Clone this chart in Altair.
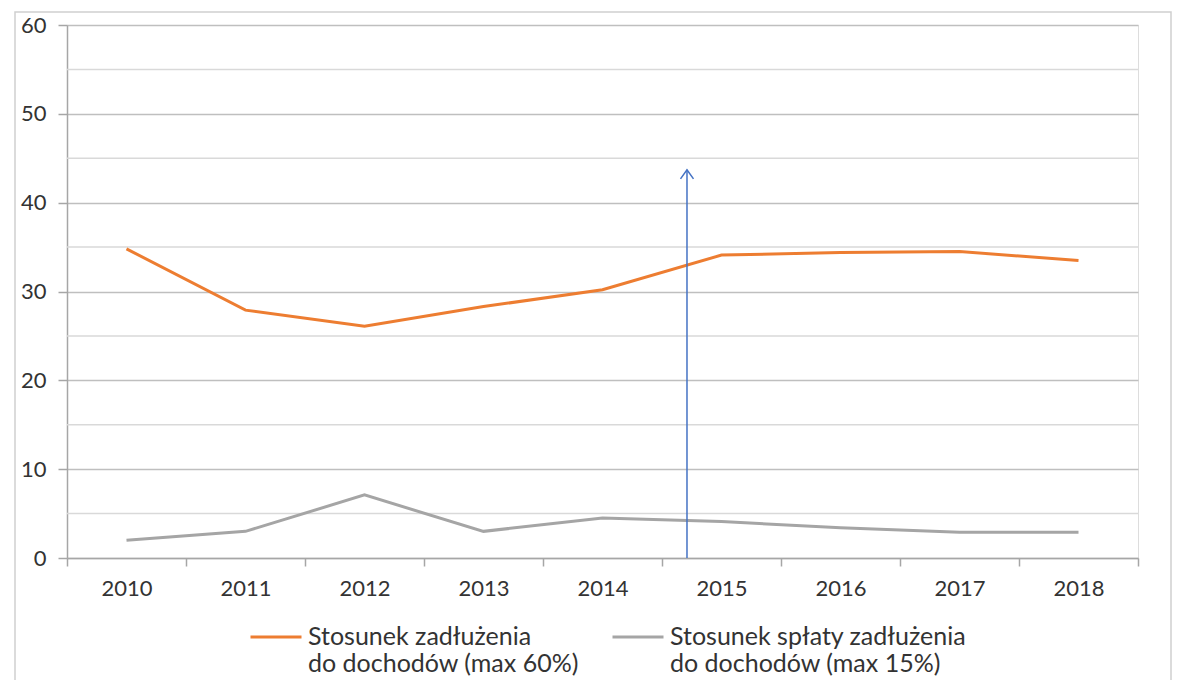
import altair as alt
import pandas as pd

years = ["2010", "2011", "2012", "2013", "2014", "2015", "2016", "2017", "2018"]
debt_ratio = [34.8, 27.9, 26.1, 28.3, 30.2, 34.1, 34.4, 34.5, 33.5]
repay_ratio = [2.0, 3.0, 7.1, 3.0, 4.5, 4.1, 3.4, 2.9, 2.9]
series_names = [
    "Stosunek zadłużenia|do dochodów (max 60%)",
    "Stosunek spłaty zadłużenia|do dochodów (max 15%)",
]
series_colors = ["#ED7D31", "#A5A5A5"]
major_ticks = [0, 10, 20, 30, 40, 50, 60]
minor_grid = [5, 15, 25, 35, 45, 55]
arrow_pos = [5.21]
arrow_top = [43.7]

rows = []
for name, vals in zip(series_names, [debt_ratio, repay_ratio]):
    for yr, v in zip(years, vals):
        rows.append({"year": yr, "value": v, "series": name})
df = pd.DataFrame(rows)

FONT = "Lato"
AXIS_GRAY = "#a6a6a6"

y_scale = alt.Scale(domain=[0, 60], nice=False, zero=True)
y_axis = alt.Axis(
    values=major_ticks, grid=True, gridColor="#bfbfbf", gridWidth=1.5,
    domainColor=AXIS_GRAY, domainWidth=1.5, tickColor=AXIS_GRAY, tickWidth=1.5,
    tickSize=9, labelFont=FONT, labelFontSize=22, labelColor="#333333",
    labelPadding=12, title=None,
)


def yenc(field):
    return alt.Y(field, type="quantitative", scale=y_scale, axis=y_axis, title=None)


x_axis = alt.Axis(
    tickBand="extent", ticks=True, tickSize=8, tickColor=AXIS_GRAY, tickWidth=1.5,
    domainColor=AXIS_GRAY, domainWidth=1.5, labelFont=FONT, labelFontSize=22,
    labelColor="#333333", labelPadding=12, labelAngle=0, grid=False, title=None,
)

frame = alt.Chart(pd.DataFrame({"k": [0]})).mark_rect(
    fillOpacity=0, stroke="#d0d0d0", strokeWidth=1.5
).encode(
    x=alt.value(-52), x2=alt.value(1104), y=alt.value(-13), y2=alt.value(720)
)

minor = alt.Chart(pd.DataFrame({"v": minor_grid})).mark_rule(
    color="#d9d9d9", strokeWidth=1.5
).encode(y=yenc("v"))

lines = alt.Chart(df).mark_line(strokeWidth=3).encode(
    x=alt.X("year:N", sort=years,
            scale=alt.Scale(type="band", paddingInner=0, paddingOuter=0),
            axis=x_axis, title=None),
    y=yenc("value"),
    color=alt.Color(
        "series:N", sort=series_names,
        scale=alt.Scale(domain=series_names, range=series_colors),
        legend=alt.Legend(
            orient="none", legendX=182, legendY=585, direction="horizontal",
            title=None, symbolType="stroke", symbolSize=2601, symbolStrokeWidth=3,
            labelFont=FONT, labelFontSize=25, labelColor="#333333",
            labelExpr="split(datum.label, '|')", labelLimit=600,
            labelOffset=5, columnPadding=27, padding=0, labelBaseline="middle",
        ),
    ),
)

arrow_df = pd.DataFrame({"pos": arrow_pos, "top": arrow_top, "base": [0] * len(arrow_pos)})
ax = alt.X("pos:Q", scale=alt.Scale(domain=[0, 9], nice=False, zero=False), axis=None)

arrow_line = alt.Chart(arrow_df).mark_rule(color="#4472C4", strokeWidth=1.5).encode(
    x=ax, y=yenc("base"), y2="top"
)
arrow_head = alt.Chart(arrow_df).mark_point(
    shape="M -1 1.4 L 0 0 L 1 1.4", filled=False, size=169, color="#4472C4",
    strokeWidth=1.5, opacity=1,
).encode(x=ax, y=yenc("top"))

chart = alt.layer(frame, minor, lines, arrow_line, arrow_head).resolve_scale(
    x="independent"
).properties(
    width=1071, height=533,
    padding={"left": 59, "top": 17, "right": 34, "bottom": 122},
    autosize=alt.AutoSizeParams(type="none"),
).configure_view(stroke=None).configure(background="white")

chart.save("out.html", embed_options={"renderer": "svg", "actions": False})
